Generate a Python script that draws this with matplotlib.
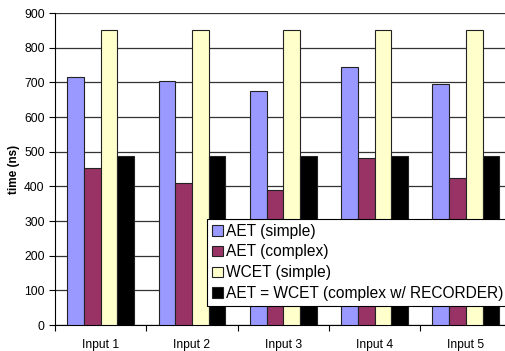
import matplotlib.pyplot as plt
import numpy as np

plt.rcParams['font.family'] = ['Liberation Sans', 'DejaVu Sans']

categories = ["Input 1", "Input 2", "Input 3", "Input 4", "Input 5"]
aet_simple = [714, 703, 676, 745, 695]
aet_complex = [453, 410, 390, 482, 425]
wcet_simple = [850, 850, 850, 850, 850]
aet_recorder = [488, 488, 488, 488, 488]

series = [
    ("AET (simple)", aet_simple, "#9999ff"),
    ("AET (complex)", aet_complex, "#993366"),
    ("WCET (simple)", wcet_simple, "#ffffcc"),
    ("AET = WCET (complex w/ RECORDER)", aet_recorder, "#000000"),
]

fig = plt.figure(figsize=(5.06, 3.51), dpi=100)
ax = fig.add_axes([55 / 506, 1 - 325 / 351, (511.5 - 55) / 506, (325 - 13) / 351])

x = np.arange(len(categories))
w = 0.183
for i, (name, vals, col) in enumerate(series):
    ax.bar(x + (i - 1.5) * w, vals, w, color=col, edgecolor="#222222",
           linewidth=0.8, label=name, zorder=3)

ax.set_xlim(-0.5, len(categories) - 0.5)
ax.set_ylim(0, 900)
ax.set_yticks(range(0, 901, 100))
ax.yaxis.grid(True, color="#333333", linewidth=0.9, zorder=0)
ax.set_xticks(x)
ax.set_xticklabels(categories, fontsize=8.7)
ax.set_xticks(np.arange(-0.5, len(categories)), minor=True)
ax.tick_params(axis="x", which="major", length=0, pad=10)
ax.tick_params(axis="x", which="minor", length=4, direction="out", width=0.8)
ax.tick_params(axis="y", length=4, direction="out", labelsize=8.7, width=0.8)
for s in ["top", "right"]:
    ax.spines[s].set_visible(False)
ax.spines["left"].set_linewidth(0.8)
ax.spines["bottom"].set_linewidth(0.8)

ax.set_ylabel("time (ns)", fontsize=8.5, fontweight="bold", labelpad=3)

leg = ax.legend(loc="lower left", bbox_to_anchor=(0.333, 0.061), fontsize=11.2,
                frameon=True, fancybox=False, edgecolor="black", framealpha=1,
                handlelength=0.7, handleheight=0.7, handletextpad=0.25,
                labelspacing=0.38, borderpad=0.3, borderaxespad=0)
leg.get_frame().set_linewidth(0.8)
leg.set_zorder(5)

fig.savefig("out.png", dpi=100)
